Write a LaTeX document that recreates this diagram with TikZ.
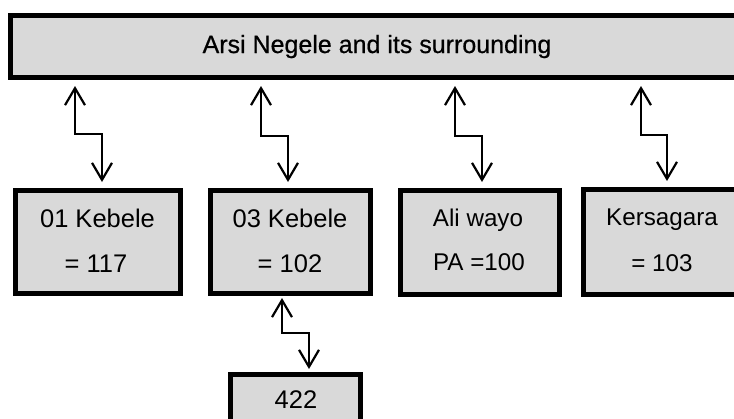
\documentclass[tikz,border=0pt]{standalone}
\usepackage{fontspec}
\setmainfont{Liberation Sans}
\newfontfamily\titlefont[FakeBold=0.6]{Liberation Sans}
\usetikzlibrary{arrows.meta}
\definecolor{boxgray}{HTML}{D9D9D9}
\tikzset{
  kbox/.style={draw=black, fill=boxgray, line width=5pt, rectangle, inner sep=0pt, outer sep=0pt},
  lbl/.style={font=\fontsize{25.5}{30}\selectfont, anchor=base, inner sep=0pt},
  lblb/.style={font=\fontsize{24.2}{30}\selectfont, anchor=base, inner sep=0pt},
  ttl/.style={font=\titlefont\fontsize{25}{30}\selectfont, anchor=base, inner sep=0pt},
  conn/.style={line width=2.2pt, {Straight Barb[length=17pt,width=20pt]}-{Straight Barb[length=17pt,width=20pt]}}
}
\begin{document}
\begin{tikzpicture}[x=1pt,y=-1pt]
\useasboundingbox (0,0) rectangle (734,418);
% title box
\node[kbox, minimum width=750, minimum height=62] (top) at (385.5,46.5) {};
\node[ttl] (toptext) at (377,53) {Arsi Negele and its surrounding};
% level boxes
\node[kbox, minimum width=165, minimum height=103] (b1) at (98,242) {};
\node[kbox, minimum width=160, minimum height=103] (b2) at (290.5,242) {};
\node[kbox, minimum width=159, minimum height=104] (b3) at (480,242.5) {};
\node[kbox, minimum width=157, minimum height=105] (b4) at (662,242) {};
\node[kbox, minimum width=130, minimum height=60] (b5) at (295.5,404.5) {};
% labels
\node[lbl] (b1a) at (97.5,227) {01 Kebele};
\node[lbl] (b1b) at (96,272) {= 117};
\node[lbl] (b2a) at (290,227) {03 Kebele};
\node[lbl] (b2b) at (290,272) {= 102};
\node[lblb] (b3a) at (478,226) {Ali wayo};
\node[lblb] (b3b) at (479,270) {PA =100};
\node[lblb] (b4a) at (662,225) {Kersagara};
\node[lblb] (b4b) at (662,271) {= 103};
\node[lbl] (b5a) at (296,408) {422};
% connectors
\draw[conn, shorten <=8.5pt, shorten >=8.5pt] (75,0 |- top.south) -- (75,134) -- (102,134) -- (102,0 |- b1.north);
\draw[conn, shorten <=8.5pt, shorten >=8.5pt] (261,0 |- top.south) -- (261,136) -- (288,136) -- (288,0 |- b2.north);
\draw[conn, shorten <=8.5pt, shorten >=8.5pt] (455,0 |- top.south) -- (455,136) -- (482,136) -- (482,0 |- b3.north);
\draw[conn, shorten <=8.5pt, shorten >=8.5pt] (641,0 |- top.south) -- (641,135) -- (667,135) -- (667,0 |- b4.north);
\draw[conn, shorten <=4.5pt, shorten >=5.5pt] (282,0 |- b2.south) -- (282,333) -- (309,333) -- (309,0 |- b5.north);
\end{tikzpicture}
\end{document}
